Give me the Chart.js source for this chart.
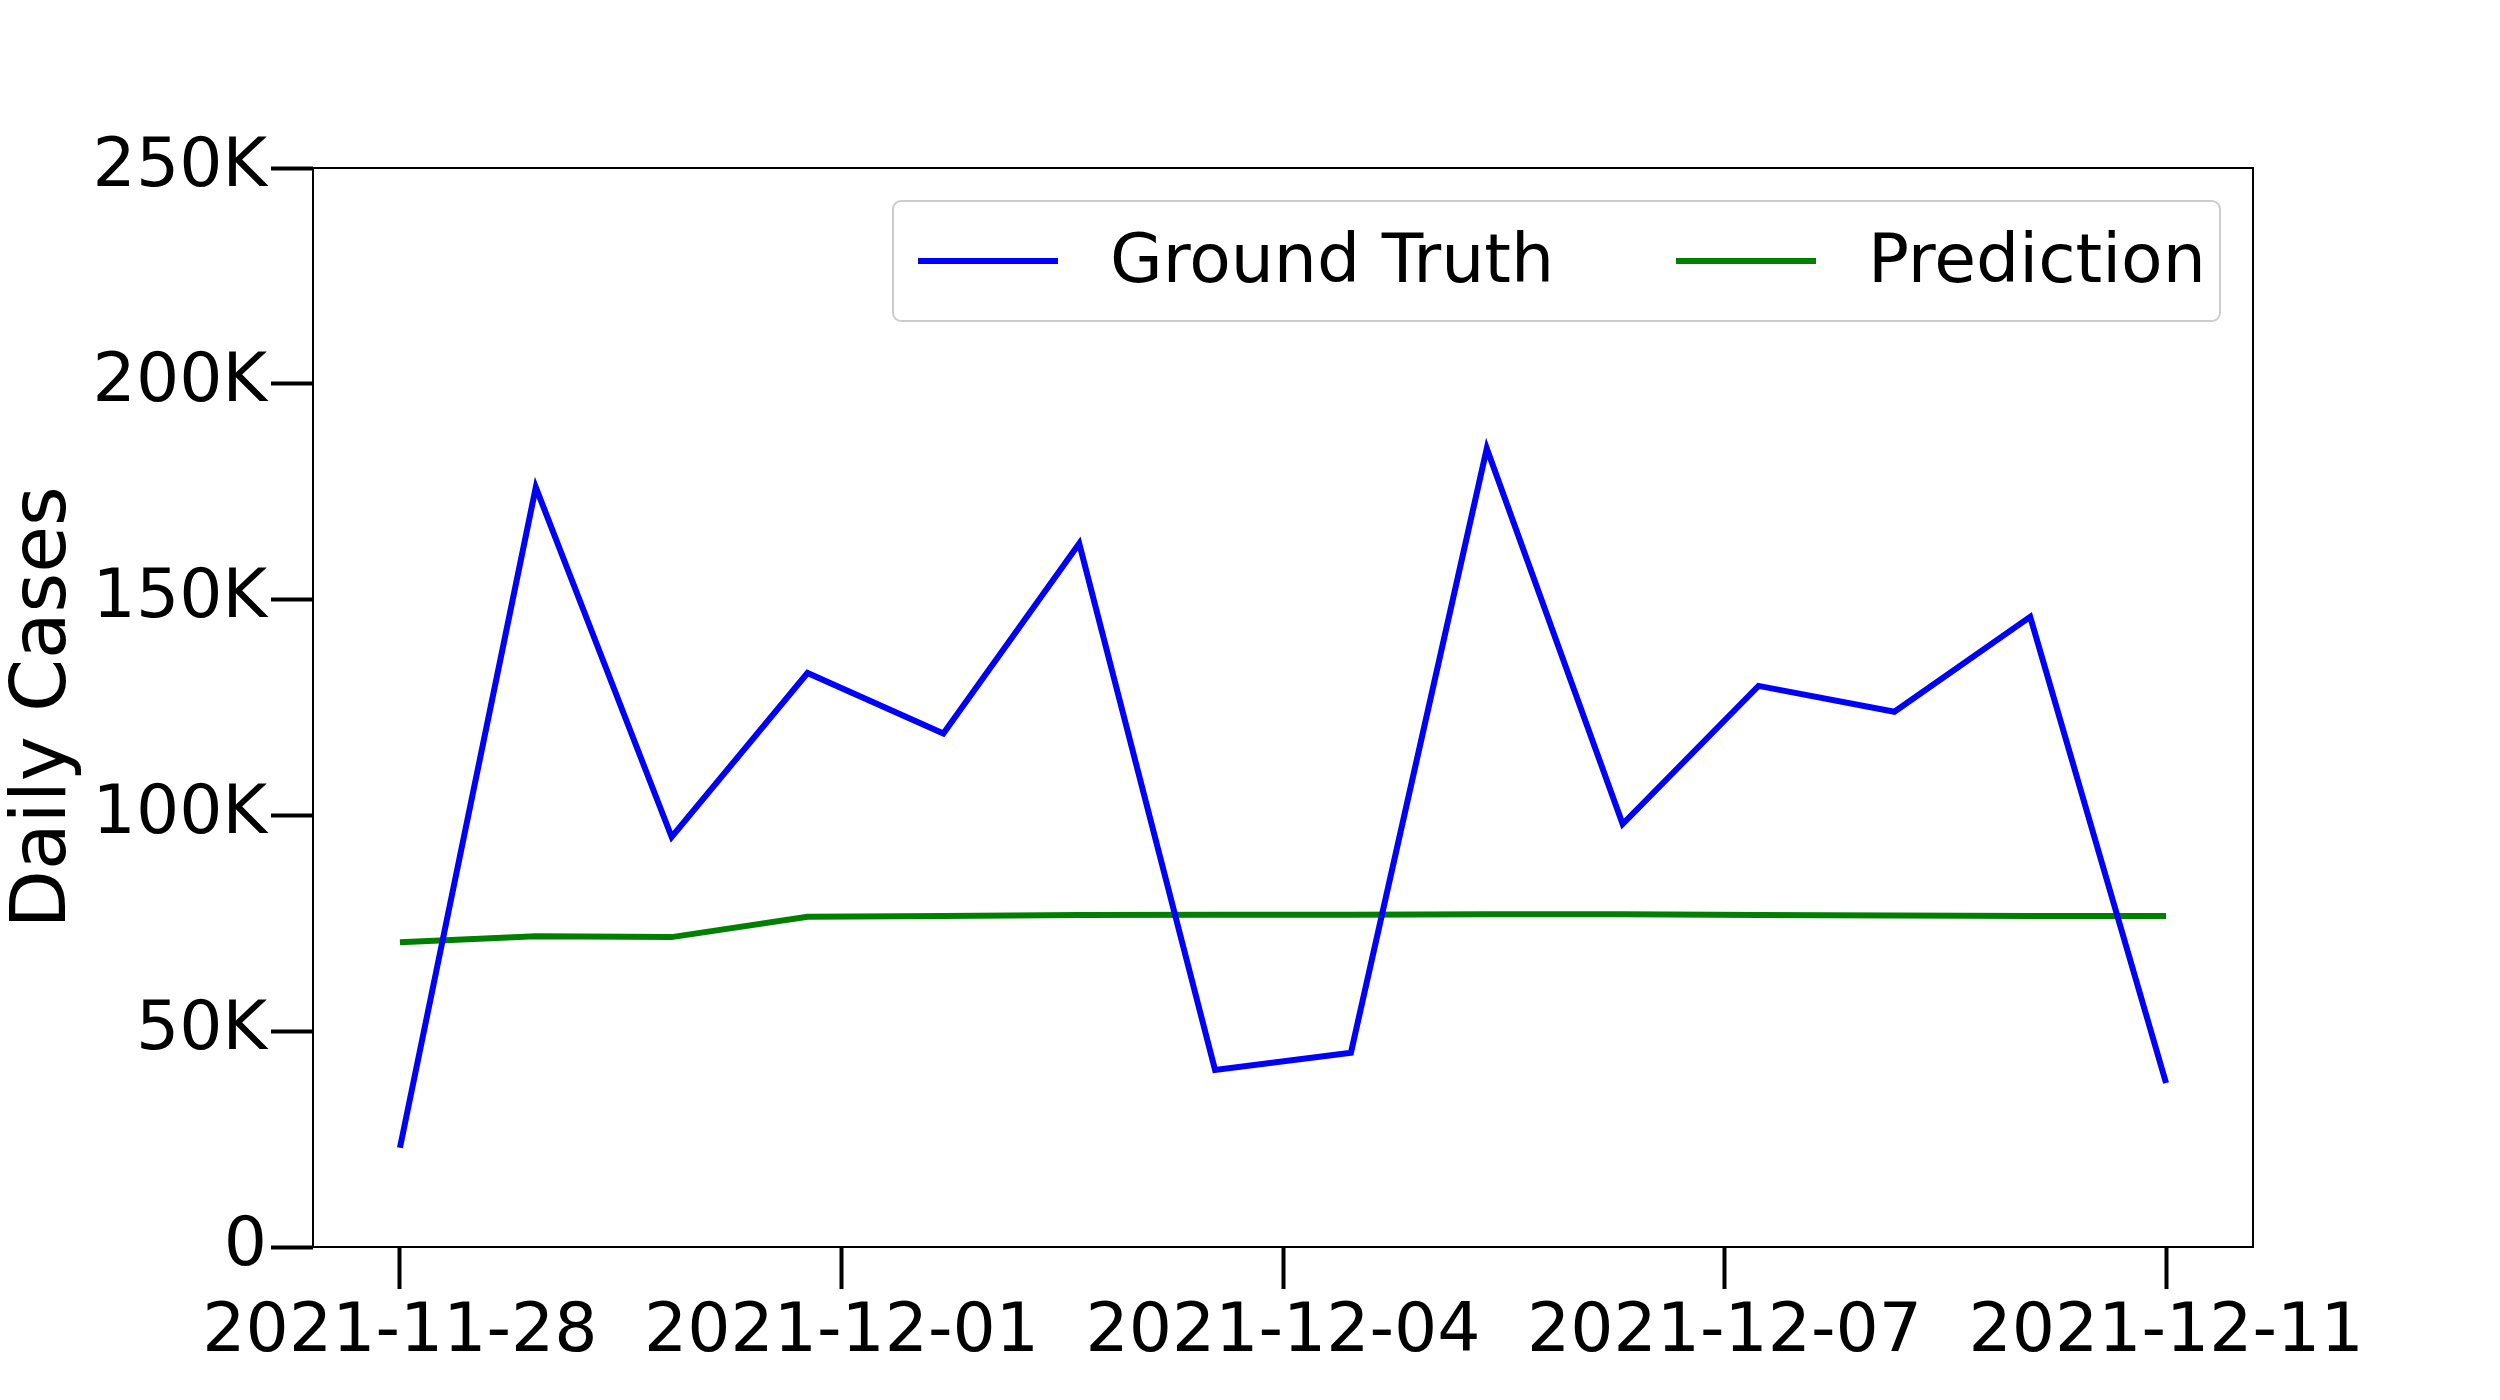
<!DOCTYPE html>
<html><head><script src="https://cdn.jsdelivr.net/npm/chart.js@4"></script>
<style>body{margin:0;background:#fff}#c{display:block}</style></head>
<body><div style="width:2500px;height:1400px"><canvas id="c"></canvas></div>
<script>
const days=[0,1,2,3,4,5,6,7,8,9,10,11,12,13];
const groundTruth=[23,176,95,133,119,163,41,45,185,98,130,124,146,38];
const prediction=[70.6,72,71.8,76.5,76.7,76.9,77,77,77.1,77.1,76.9,76.8,76.7,76.7];
const tickPos=[0,3.25,6.5,9.75,13];
const tickLabels=['2021-11-28','2021-12-01','2021-12-04','2021-12-07','2021-12-11'];
const yTicks=[0,50,100,150,200,250];
const F='"DejaVu Sans"';
const frame={id:'frame',afterDraw(c){const a=c.chartArea,x=c.ctx;x.save();x.strokeStyle='#000';x.lineWidth=2;x.strokeRect(a.left,a.top,a.right-a.left,a.bottom-a.top);
const L=893,T=201,W=1327,H=120;x.fillStyle='rgba(255,255,255,0.8)';x.strokeStyle='#ccc';x.lineWidth=2;x.beginPath();x.roundRect(L,T,W,H,8);x.fill();x.stroke();
x.font='68px '+F;x.textBaseline='middle';x.fillStyle='#000';
c.data.datasets.forEach((d,i)=>{const ox=L+25+i*758;x.strokeStyle=d.borderColor;x.lineWidth=6;x.beginPath();x.moveTo(ox,T+H/2);x.lineTo(ox+140,T+H/2);x.stroke();x.fillText(d.label,ox+192,T+H/2+3);});
x.restore();}};
new Chart(document.getElementById('c'),{type:'line',
data:{datasets:[{label:'Ground Truth',data:days.map((d,i)=>({x:d,y:groundTruth[i]})),borderColor:'#0000ff',borderWidth:6,pointRadius:0,tension:0},
{label:'Prediction',data:days.map((d,i)=>({x:d,y:prediction[i]})),borderColor:'#008000',borderWidth:6,pointRadius:0,tension:0}]},
options:{responsive:true,maintainAspectRatio:false,animation:false,layout:{padding:{top:168,right:247,left:0,bottom:0}},
plugins:{legend:{display:false},tooltip:{enabled:false}},
scales:{x:{type:'linear',min:-0.64,max:13.64,afterBuildTicks:s=>{s.ticks=tickPos.map(v=>({value:v}))},afterFit:s=>{s.height=153},
ticks:{callback:(v)=>tickLabels[tickPos.indexOf(v)]??'',font:{size:68,family:F},color:'#000',maxRotation:0,autoSkip:false,padding:4},
grid:{drawOnChartArea:false,tickLength:42,tickWidth:4,color:'#000'},border:{display:false}},
y:{min:0,max:250,afterBuildTicks:s=>{s.ticks=yTicks.map(v=>({value:v}))},afterFit:s=>{s.width=313},
ticks:{callback:v=>v===0?'0':v+'K',font:{size:68,family:F},color:'#000',padding:4},
grid:{drawOnChartArea:false,tickLength:42,tickWidth:4,color:'#000'},border:{display:false},
title:{display:true,text:'Daily Cases',font:{size:76,family:F},color:'#000',padding:0}}}},
plugins:[frame]});
</script></body></html>
